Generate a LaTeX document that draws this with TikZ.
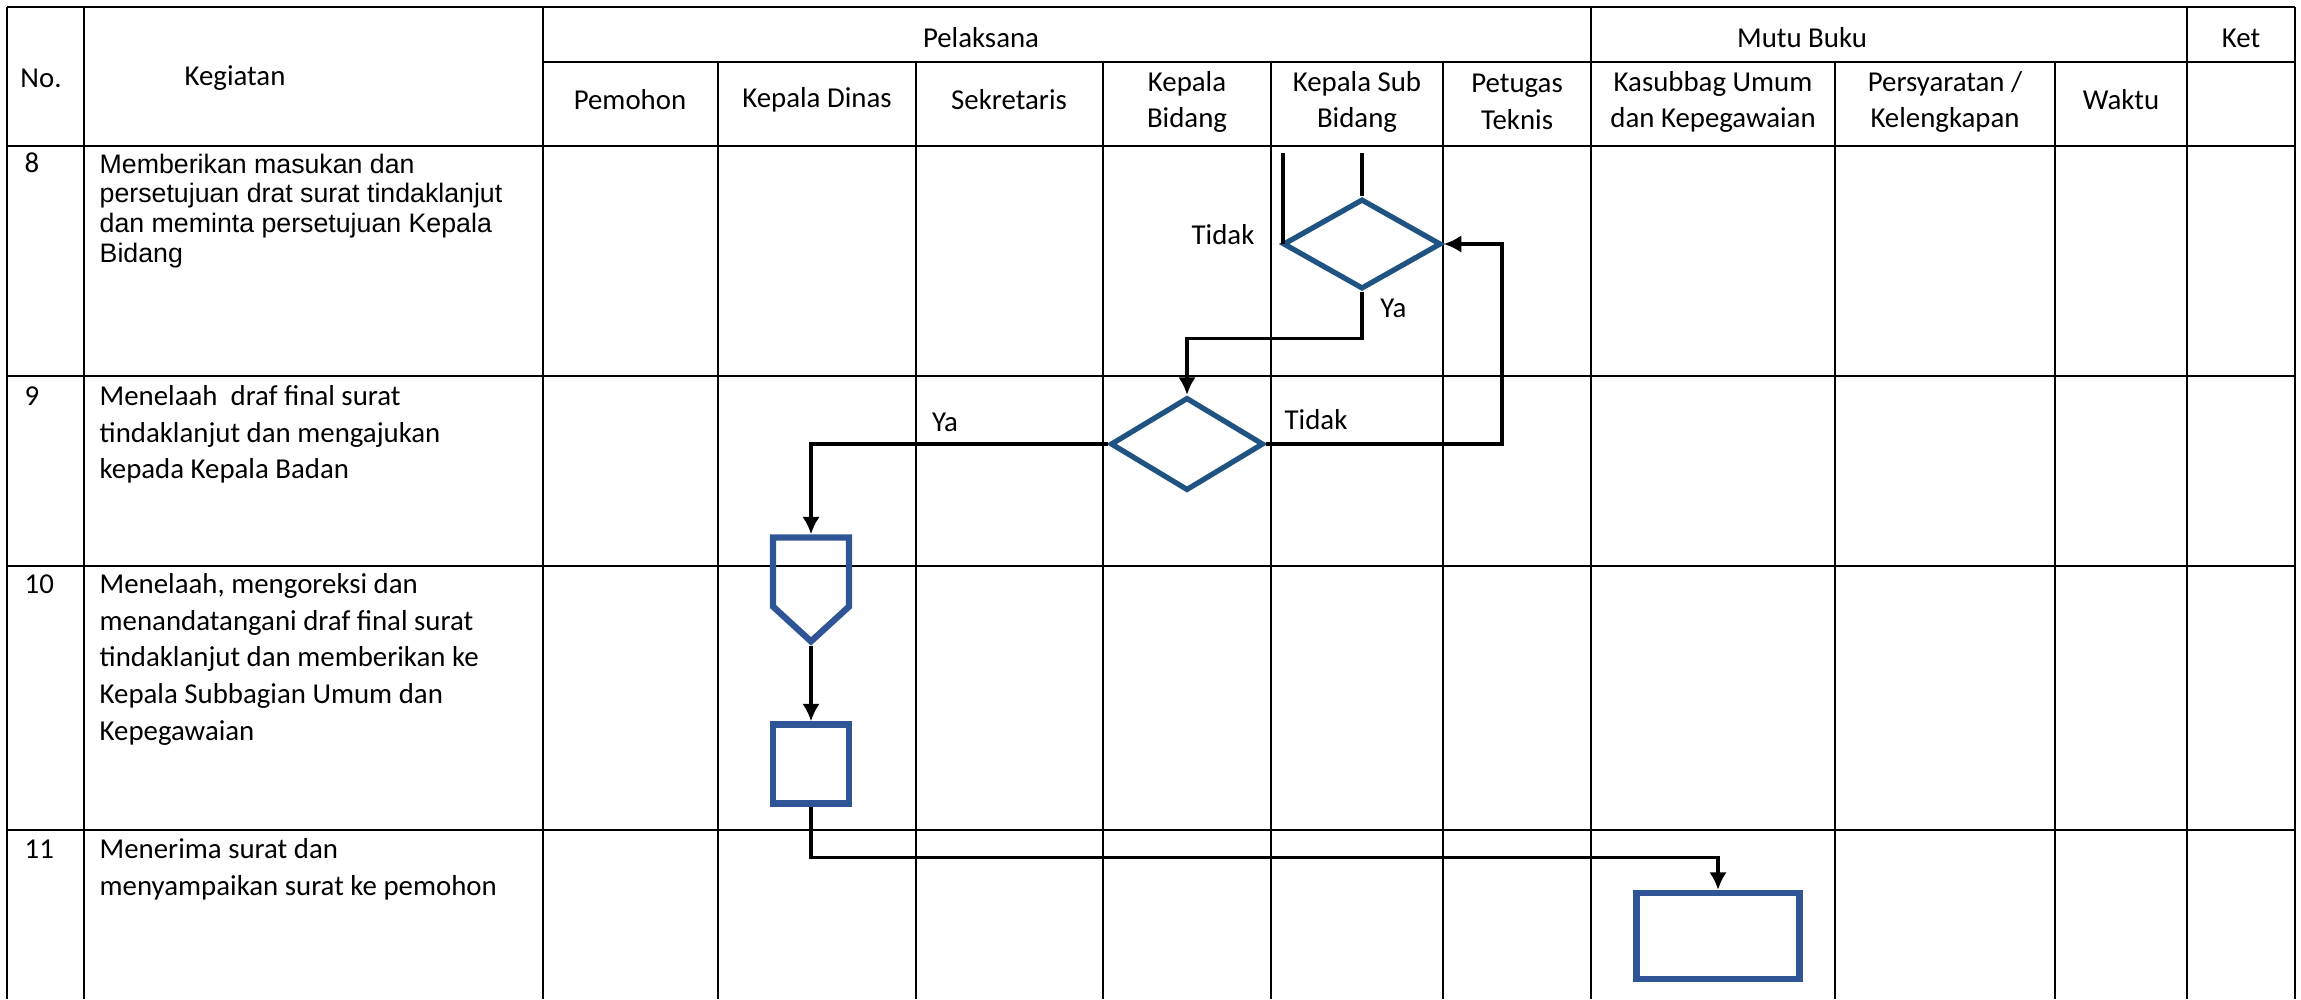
\documentclass[tikz,border=0pt]{standalone}
\usepackage{fontspec}
\setmainfont{Carlito}
\newfontfamily\arialfont{Liberation Sans}
\usetikzlibrary{shapes.geometric,shapes.symbols,arrows.meta}
\definecolor{diamondblue}{RGB}{31,84,130}
\definecolor{boxblue}{RGB}{47,85,151}

\begin{document}
\begin{tikzpicture}[x=0.01cm,y=-0.01cm,
    font=\fontsize{8.2}{10.4}\selectfont,
    garis/.style={line width=0.7pt},
    alur/.style={line width=1pt,>={Latex[length=5pt,width=5pt]}},
    keputusan/.style={draw=diamondblue,diamond,line width=1.5pt,inner sep=0pt},
    proses/.style={draw=boxblue,rectangle,line width=1.8pt,inner sep=0pt},
    uraian/.style={anchor=north west,align=left,inner sep=0pt},
    nomor/.style={anchor=base west,inner sep=0pt}]
    \useasboundingbox (0,0) rectangle (2301,999);

    % tabel
    \draw[garis] (7,7) -- (2295,7);
    \draw[garis] (543,62) -- (2295,62);
    \foreach \y in {146,376,566,830}
        \draw[garis] (7,\y) -- (2295,\y);
    \foreach \x in {7,84,543,1591,2187,2295}
        \draw[garis] (\x,7) -- (\x,999);
    \foreach \x in {718,916,1103,1271,1443,1835,2055}
        \draw[garis] (\x,62) -- (\x,999);

    % kepala tabel
    \node (no) at (41,78) {No.};
    \node (kegiatan) at (235,78) {Kegiatan};
    \node (pelaksana) at (981,38) {Pelaksana};
    \node (mutu) at (1802,38) {Mutu Buku};
    \node (ket) at (2241,38) {Ket};
    \node (pemohon) at (630,100) {Pemohon};
    \node (kadis) at (817,100) {Kepala Dinas};
    \node (sekretaris) at (1009,100) {Sekretaris};
    \node[align=center] (kabid) at (1187,102) {Kepala\\Bidang};
    \node[align=center] (kasubbid) at (1357,102) {Kepala Sub\\Bidang};
    \node[align=center] (petugas) at (1517,102) {Petugas\\Teknis};
    \node[align=center] (kasubbag) at (1713,102) {Kasubbag Umum\\dan Kepegawaian};
    \node[align=center] (syarat) at (1945,102) {Persyaratan /\\Kelengkapan};
    \node (waktu) at (2121,100) {Waktu};

    % kegiatan
    \node[nomor] (n8) at (24,172) {8};
    \node[uraian,font=\arialfont\fontsize{7.6}{8.5}\selectfont] (k8) at (99,153)
        {Memberikan masukan dan\\persetujuan drat surat tindaklanjut\\dan meminta persetujuan Kepala\\Bidang};
    \node[nomor] (n9) at (24,405) {9};
    \node[uraian] (k9) at (99,385) {Menelaah\ \ draf final surat\\tindaklanjut dan mengajukan\\kepada Kepala Badan};
    \node[nomor] (n10) at (24,593) {10};
    \node[uraian] (k10) at (99,573) {Menelaah, mengoreksi dan\\menandatangani draf final surat\\tindaklanjut dan memberikan ke\\Kepala Subbagian Umum dan\\Kepegawaian};
    \node[nomor] (n11) at (24,858) {11};
    \node[uraian] (k11) at (99,838) {Menerima surat dan\\menyampaikan surat ke pemohon};

    % bagan alir
    \node[keputusan,minimum width=1.58cm,minimum height=0.9cm] (cekA) at (1362,244) {};
    \node[keputusan,minimum width=1.53cm,minimum height=0.93cm] (cekB) at (1187,444) {};
    \node[signal,draw=boxblue,line width=1.8pt,signal to=south,signal from=nothing,
        signal pointer angle=95,minimum width=0.76cm,minimum height=0.69cm,inner sep=0pt] (ttd) at (811,572) {};
    \node[proses,minimum width=0.76cm,minimum height=0.79cm] (arsip) at (811,764) {};
    \node[proses,minimum width=1.63cm,minimum height=0.86cm] (terima) at (1718,936) {};

    \coordinate (masukA) at (1362,153);
    \coordinate (masukTidak) at (1283,153);
    \draw[alur] (masukA) -- (cekA.north);
    \draw[alur] (masukTidak) -- (masukTidak |- cekA.west);
    \draw[alur,->] (cekA.south) -- ++(0,47) -| (cekB.north);
    \draw[alur,->] (cekB.east) -- ++(236,0) |- (cekA.east);
    \draw[alur,->] (cekB.west) -| (ttd.north);
    \draw[alur,->] (ttd.south) -- (arsip.north);
    \draw[alur,->] (arsip.south) -- ++(0,51) -| (terima.north);

    \node (tidakA) at (1223,235) {Tidak};
    \node[anchor=west] (yaA) at (1368,308) {Ya};
    \node (tidakB) at (1316,420) {Tidak};
    \node (yaB) at (945,422) {Ya};
\end{tikzpicture}
\end{document}
